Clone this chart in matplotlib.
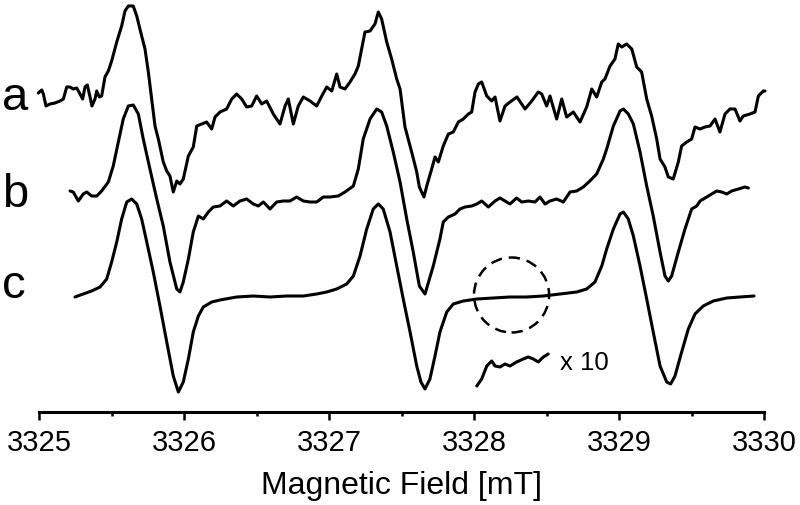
import matplotlib
matplotlib.use("Agg")
import matplotlib.pyplot as plt
from matplotlib.patches import Ellipse
from matplotlib.ticker import MultipleLocator

# ---- data (magnetic field in mT, intensity in arbitrary units incl. vertical offset) ----
a_x = [3324.993, 3325.017, 3325.028, 3325.046, 3325.074, 3325.108, 3325.143, 3325.166, 3325.189, 3325.212,
       3325.234, 3325.258, 3325.281, 3325.299, 3325.315, 3325.331, 3325.350, 3325.363, 3325.384, 3325.396,
       3325.414, 3325.430, 3325.453, 3325.476, 3325.499, 3325.534, 3325.568, 3325.591, 3325.614, 3325.648,
       3325.672, 3325.699, 3325.729, 3325.752, 3325.775, 3325.798, 3325.821, 3325.855, 3325.879, 3325.901,
       3325.924, 3325.948, 3325.970, 3325.993, 3326.028, 3326.062, 3326.086, 3326.120, 3326.154, 3326.189,
       3326.212, 3326.246, 3326.292, 3326.327, 3326.361, 3326.396, 3326.430, 3326.465, 3326.499, 3326.534,
       3326.568, 3326.614, 3326.660, 3326.695, 3326.717, 3326.752, 3326.786, 3326.821, 3326.867, 3326.913,
       3326.948, 3326.982, 3327.017, 3327.051, 3327.074, 3327.108, 3327.143, 3327.177, 3327.200, 3327.223,
       3327.246, 3327.281, 3327.315, 3327.338, 3327.361, 3327.396, 3327.430, 3327.465, 3327.488, 3327.522,
       3327.568, 3327.603, 3327.621, 3327.637, 3327.653, 3327.672, 3327.706, 3327.729, 3327.752, 3327.786,
       3327.821, 3327.855, 3327.890, 3327.924, 3327.959, 3327.982, 3328.005, 3328.028, 3328.051, 3328.086,
       3328.120, 3328.143, 3328.177, 3328.212, 3328.246, 3328.294, 3328.350, 3328.396, 3328.441, 3328.465,
       3328.499, 3328.522, 3328.568, 3328.603, 3328.637, 3328.683, 3328.729, 3328.775, 3328.810, 3328.844,
       3328.879, 3328.901, 3328.936, 3328.970, 3328.993, 3329.017, 3329.051, 3329.086, 3329.120, 3329.154,
       3329.189, 3329.223, 3329.258, 3329.281, 3329.315, 3329.338, 3329.372, 3329.407, 3329.430, 3329.465,
       3329.499, 3329.522, 3329.557, 3329.591, 3329.626, 3329.660, 3329.694, 3329.729, 3329.763, 3329.798,
       3329.832, 3329.855, 3329.901, 3329.936, 3329.959, 3329.993, 3330.005]
a_y = [319, 322, 318, 306, 308, 309, 311, 313, 325, 325,
       323, 324, 318, 313, 325, 327, 315, 306, 313, 321,
       315, 316, 335, 341, 351, 370, 386, 401, 406, 406,
       396, 380, 363, 340, 313, 286, 273, 250, 241, 236,
       220, 231, 228, 233, 256, 265, 286, 288, 290, 283,
       295, 300, 303, 313, 318, 313, 305, 306, 316, 308,
       311, 298, 288, 306, 313, 288, 306, 315, 311, 306,
       316, 325, 321, 338, 325, 323, 330, 338, 346, 363,
       380, 381, 388, 400, 393, 370, 353, 333, 323, 285,
       260, 240, 225, 220, 215, 226, 243, 255, 250, 266,
       278, 280, 290, 293, 298, 300, 320, 328, 330, 316,
       311, 315, 291, 306, 310, 315, 303, 311, 320, 318,
       306, 316, 293, 313, 295, 300, 290, 305, 323, 315,
       330, 333, 346, 353, 368, 365, 368, 363, 345, 340,
       313, 296, 273, 253, 245, 235, 233, 250, 266, 270,
       273, 285, 283, 285, 286, 293, 280, 298, 303, 303,
       291, 296, 298, 300, 316, 321, 321]

b_x = [3325.212, 3325.234, 3325.269, 3325.303, 3325.327, 3325.361, 3325.396, 3325.430, 3325.476, 3325.510,
       3325.545, 3325.579, 3325.614, 3325.648, 3325.683, 3325.717, 3325.763, 3325.810, 3325.855, 3325.901,
       3325.948, 3325.970, 3325.993, 3326.028, 3326.062, 3326.097, 3326.131, 3326.166, 3326.200, 3326.246,
       3326.292, 3326.338, 3326.384, 3326.430, 3326.476, 3326.510, 3326.545, 3326.591, 3326.637, 3326.683,
       3326.729, 3326.775, 3326.821, 3326.867, 3326.913, 3326.959, 3327.005, 3327.062, 3327.108, 3327.166,
       3327.200, 3327.234, 3327.281, 3327.327, 3327.361, 3327.396, 3327.441, 3327.488, 3327.534, 3327.579,
       3327.621, 3327.660, 3327.717, 3327.763, 3327.786, 3327.821, 3327.867, 3327.901, 3327.936, 3327.982,
       3328.017, 3328.051, 3328.097, 3328.143, 3328.177, 3328.212, 3328.246, 3328.292, 3328.327, 3328.372,
       3328.419, 3328.453, 3328.488, 3328.522, 3328.568, 3328.614, 3328.660, 3328.706, 3328.752, 3328.797,
       3328.844, 3328.890, 3328.913, 3328.959, 3329.005, 3329.028, 3329.062, 3329.097, 3329.143, 3329.189,
       3329.234, 3329.281, 3329.315, 3329.338, 3329.361, 3329.407, 3329.453, 3329.499, 3329.534, 3329.557,
       3329.603, 3329.637, 3329.671, 3329.706, 3329.741, 3329.775, 3329.821, 3329.867, 3329.890]
b_y = [221, 220, 211, 218, 220, 216, 216, 221, 230, 246,
       270, 293, 306, 307, 298, 273, 243, 213, 186, 150,
       123, 120, 130, 153, 180, 196, 193, 200, 205, 206,
       211, 206, 211, 213, 208, 206, 210, 203, 210, 211,
       211, 215, 211, 210, 210, 215, 215, 216, 220, 226,
       243, 273, 293, 303, 300, 286, 260, 230, 193, 160,
       126, 118, 146, 173, 190, 195, 198, 203, 205, 206,
       208, 211, 205, 211, 214, 211, 208, 214, 210, 211,
       210, 215, 208, 211, 213, 210, 220, 221, 225, 231,
       238, 253, 263, 286, 301, 303, 298, 288, 260, 226,
       196, 160, 136, 131, 136, 160, 183, 203, 206, 211,
       215, 218, 221, 220, 218, 221, 223, 225, 224]

c_x = [3325.246, 3325.303, 3325.361, 3325.419, 3325.465, 3325.499, 3325.534, 3325.568, 3325.603, 3325.637,
       3325.672, 3325.706, 3325.741, 3325.786, 3325.832, 3325.879, 3325.924, 3325.959, 3325.993, 3326.028,
       3326.062, 3326.097, 3326.131, 3326.189, 3326.246, 3326.361, 3326.476, 3326.591, 3326.706, 3326.821,
       3326.913, 3326.982, 3327.051, 3327.120, 3327.166, 3327.212, 3327.258, 3327.303, 3327.338, 3327.372,
       3327.419, 3327.465, 3327.510, 3327.557, 3327.603, 3327.632, 3327.660, 3327.694, 3327.729, 3327.763,
       3327.810, 3327.855, 3327.924, 3328.017, 3328.131, 3328.246, 3328.361, 3328.476, 3328.591, 3328.706,
       3328.775, 3328.832, 3328.879, 3328.913, 3328.959, 3329.005, 3329.028, 3329.062, 3329.097, 3329.143,
       3329.189, 3329.234, 3329.281, 3329.327, 3329.354, 3329.384, 3329.430, 3329.476, 3329.522, 3329.579,
       3329.648, 3329.741, 3329.832, 3329.929]
c_y = [115, 118, 121, 125, 133, 150, 170, 193, 210, 213,
       208, 193, 170, 140, 106, 70, 36, 20, 30, 53,
       80, 96, 105, 110, 112, 115, 116, 115, 116, 116,
       118, 120, 123, 128, 136, 156, 183, 203, 208, 203,
       180, 146, 113, 80, 46, 30, 23, 33, 56, 80,
       100, 108, 111, 113, 114, 115, 115, 116, 118, 120,
       123, 130, 146, 163, 183, 198, 200, 193, 176, 146,
       113, 80, 46, 30, 28, 36, 60, 83, 98, 106,
       111, 114, 115, 116]

zoom_x = [3328.017, 3328.051, 3328.086, 3328.120, 3328.143, 3328.177, 3328.212, 3328.246, 3328.292, 3328.338,
          3328.372, 3328.407, 3328.441, 3328.476, 3328.510]
zoom_y = [26, 33, 46, 51, 46, 45, 48, 46, 50, 53,
          55, 53, 50, 55, 58]

trace_labels = ["a", "b", "c"]
xticks = [3325, 3326, 3327, 3328, 3329, 3330]
xlabel = "Magnetic Field [mT]"
zoom_label = "x 10"
circle_center = (3328.257, 117)
circle_size = (0.518, 75)

# ---- figure ----
plt.rcParams['font.family'] = ['Liberation Sans', 'DejaVu Sans']
fig = plt.figure(figsize=(8.0, 5.06), dpi=100)
ax = fig.add_axes([39.3 / 800, 93 / 506, 725 / 800, 413 / 506])

lw = 2.2
for xs, ys in [(a_x, a_y), (b_x, b_y), (c_x, c_y), (zoom_x, zoom_y)]:
    ax.plot(xs, ys, color='black', lw=lw, solid_joinstyle='round', solid_capstyle='round', clip_on=False)

ax.add_patch(Ellipse(circle_center, circle_size[0], circle_size[1], fill=False,
                     edgecolor='black', lw=1.8, linestyle=(0, (4.5, 2.8))))
ax.text(3328.59, 50, zoom_label, fontsize=18.5, va='center', ha='left')

ax.set_xlim(3325, 3330)
ax.set_ylim(0, 413)
for s in ['top', 'left', 'right']:
    ax.spines[s].set_visible(False)
ax.spines['bottom'].set_linewidth(2.2)
ax.set_yticks([])
ax.set_xticks(xticks)
ax.set_xticklabels([str(t) for t in xticks])
ax.xaxis.set_minor_locator(MultipleLocator(0.5))
ax.tick_params(axis='x', which='major', direction='out', length=6, width=1.8, labelsize=21, pad=5.5)
ax.tick_params(axis='x', which='minor', direction='out', length=3, width=1.8)
ax.set_xlabel(xlabel, fontsize=23, labelpad=10)
ax.patch.set_alpha(0)

label_fam = ['Liberation Sans Narrow', 'Liberation Sans', 'DejaVu Sans']
for lab, base in zip(trace_labels, [110, 207, 298]):
    fig.text(2 / 800, 1 - base / 506, lab, fontsize=34, family=label_fam, ha='left', va='baseline')

fig.savefig('out.png', dpi=100)
